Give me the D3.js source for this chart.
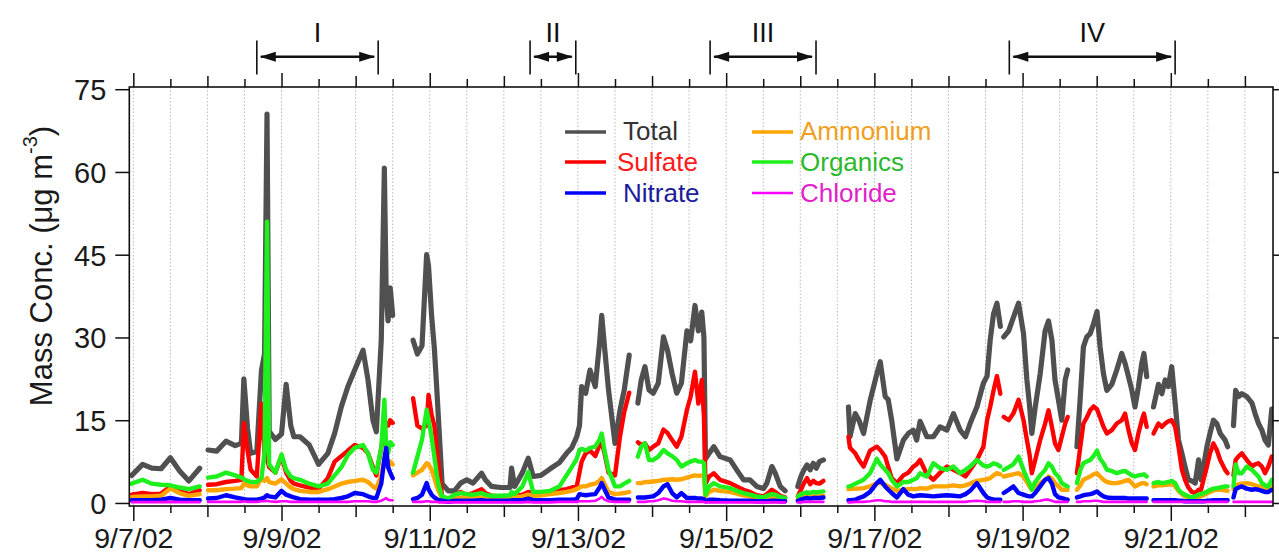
<!DOCTYPE html>
<html>
<head>
<meta charset="utf-8">
<script src="https://cdn.jsdelivr.net/npm/d3@7"></script>
<style>
  body { margin: 0; background: #fff; }
  svg { display: block; }
  text { font-family: "Liberation Sans", Arial, Helvetica, sans-serif; }
</style>
</head>
<body>
<svg id="chart" width="1279" height="554"></svg>
<script>
// Time origin: 9/7/02 00:00 (all sample times below are hours after it)
const startDate = Date.UTC(2002, 8, 7);

// Hours at which a new measurement block begins (gaps between blocks are not connected)
const segmentStarts = [-0.5, 24.2, 90.6, 163.4, 215.2, 231.6, 281.9, 305.6, 330.4, 356.3];

// Sample times (hours)
const hours = [
  -0.5, 3, 6, 9, 12, 15, 18, 21.5,
  24.2, 27, 30, 33, 35, 35.8, 37, 38, 40, 41.5, 42.5, 43.3, 44, 46, 48, 49.5, 51, 52, 54, 57, 60, 63,
  65.2, 67.4, 69.5, 71.7, 74.4, 76, 77.6, 78.7, 80.3, 81.3, 81.9, 82.5, 83.2, 84,
  90.6, 92, 93.5, 95, 95.6, 96.6, 97.5, 98.3, 99, 100, 102, 104, 106, 108, 110, 112.8, 114, 116, 119, 122,
  122.5, 123.5, 126, 127.9, 129.5, 132, 135, 138, 140.3, 142, 143.6, 144.5, 145.2, 146.5, 147.9, 149.6,
  151, 151.7, 152.6, 153.9, 156, 157.6, 159, 160.6,
  163.4, 164.5, 165.7, 167, 168.4, 170, 171.7, 173, 174.5, 176, 177.5, 179.3, 180.5, 181.9, 183, 184.1,
  184.8, 185.3, 186.5, 188, 190, 193.3, 195.4, 197.6, 199.7, 201.9, 204.1, 205.2, 206.8, 207.9, 209.5, 211.1,
  215.2, 216.2, 217.2, 218.2, 219.2, 220.2, 221.2, 222.2, 223.5,
  231.6, 232.1, 233.8, 235, 236.5, 238.6, 240.8, 241.9, 243.5, 244.5, 245.6, 247.3, 249.4, 251, 252.6, 253.7,
  254.8, 257, 259.1, 261.3, 263.5, 265.6, 267.8, 269.5, 271, 273.2, 275.3, 276.5, 277.5, 278.6, 279.7, 280.8,
  281.9, 283.5, 285, 286.7, 288.3, 289.4, 290.2, 291, 292.1, 293.7, 295.3, 296.4, 297.5, 298.5, 299.6, 300.7, 301.8, 302.6,
  305.6, 306.7, 307.7, 308.8, 309.9, 311, 312.1, 313.1, 314.2, 315.3, 316.9, 318.5, 320.1, 321.2, 322.3, 323.4,
  324.4, 325.5, 326.6, 327.3, 328.2,
  330.4, 332, 333.1, 334.2, 335.2, 336.3, 337.4, 338.5, 339.6, 340.6, 341.7, 342.8, 343.9, 345, 345.8, 346.6,
  347.7, 348.7, 349.8, 350.9, 352, 353.6, 354.4,
  356.3, 357, 358, 359, 360.6, 362.3, 363.3, 364.4, 365.5, 366.5, 367.6, 368.7
];

// Mass concentrations (µg m-3)
const total = [
  5.0, 7.0, 6.3, 6.2, 8.2, 5.8, 4.0, 6.3,
  9.6, 9.4, 11.2, 10.4, 10.8, 22.5, 13.5, 9.0, 9.3, 24.0, 27.0, 70.5, 13.0, 11.5, 12.5, 21.5, 14.0, 12.0, 12.0, 10.5, 7.0, 9.0,
  12.6, 17.5, 21.1, 24.1, 27.7, 22.3, 15.0, 12.9, 29.5, 60.7, 38.0, 33.0, 39.0, 34.0,
  29.5, 27.0, 28.5, 45.0, 43.0, 34.0, 28.0, 20.5, 13.5, 3.5, 2.2, 2.2, 3.6, 4.2, 3.6, 5.4, 4.2, 3.0, 2.8, 2.8,
  6.3, 3.0, 5.5, 8.1, 4.8, 5.0, 6.2, 7.3, 9.0, 10.0, 12.0, 14.0, 21.1, 19.9, 24.1, 21.1,
  29.0, 34.0, 28.3, 20.5, 10.8, 16.8, 20.5, 26.8,
  18.1, 22.3, 24.7, 20.5, 19.9, 21.7, 30.1, 27.7, 23.4, 19.9, 21.7, 31.2, 29.4, 35.8, 31.2, 34.6,
  30.0, 8.0, 9.0, 10.2, 8.4, 7.8, 6.0, 4.2, 4.2, 3.0, 2.6, 3.6, 6.6, 5.4, 3.0, 2.2,
  3.0, 4.8, 6.0, 6.9, 6.0, 7.2, 6.3, 7.5, 7.8,
  17.4, 12.0, 16.2, 15.0, 12.6, 18.5, 23.4, 25.6, 19.3, 18.7, 15.0, 8.0, 11.4, 12.6, 13.2, 11.4,
  14.8, 12.0, 12.0, 13.8, 13.2, 16.2, 13.2, 12.0, 14.4, 17.4, 21.7, 23.0, 29.5, 34.3, 36.2, 32.0,
  30.1, 31.2, 33.6, 36.2, 30.7, 22.3, 18.0, 12.6, 17.4, 23.4, 31.2, 33.0, 29.5, 22.3, 18.7, 15.0, 22.3, 24.1,
  10.2, 19.3, 28.3, 30.1, 30.7, 32.5, 34.7, 28.3, 23.4, 20.4, 21.5, 24.1, 27.1, 25.3, 22.9, 20.4,
  17.4, 21.0, 25.3, 27.1, 22.9,
  17.4, 21.5, 19.8, 22.3, 21.1, 24.7, 18.1, 11.4, 9.0, 6.6, 4.2, 4.0, 3.6, 7.8, 4.2, 6.6,
  10.2, 12.6, 15.0, 14.4, 12.6, 11.4, 10.2,
  14.0, 20.4, 19.3, 19.8, 19.3, 18.1, 16.2, 14.4, 13.2, 11.4, 10.5, 17.0
];

const sulfate = [
  1.5, 1.8, 1.6, 1.7, 3.0, 2.2, 1.6, 2.3,
  3.3, 3.4, 3.8, 4.0, 4.2, 14.5, 9.5, 6.0, 4.8, 18.0, 9.0, 8.0, 6.5, 5.5, 8.5, 5.5, 4.0, 3.5, 3.2, 2.8, 2.6, 4.5,
  7.5, 8.5, 9.5, 10.5, 10.0, 9.0, 6.5, 5.0, 10.0, 13.5, 14.5, 14.0, 15.0, 14.5,
  19.0, 14.0, 13.5, 14.0, 19.6, 16.0, 14.0, 9.6, 6.0, 1.2, 0.6, 1.3, 2.0, 1.5, 1.8, 2.5, 1.8, 1.3, 1.2, 1.2,
  1.5, 1.3, 1.5, 2.0, 1.8, 1.8, 2.0, 2.3, 2.5, 2.8, 3.0, 5.5, 7.5, 9.0, 9.5, 8.5,
  10.5, 11.0, 9.0, 5.5, 5.0, 12.0, 16.5, 20.0,
  11.0, 10.5, 10.8, 9.6, 10.2, 10.8, 13.3, 12.7, 11.4, 10.2, 12.0, 16.9, 19.3, 23.8, 18.0, 22.3,
  15.7, 3.5, 4.8, 5.4, 4.2, 3.6, 3.0, 2.4, 2.0, 1.4, 1.2, 1.6, 2.4, 2.0, 1.3, 1.0,
  1.2, 2.4, 3.6, 4.5, 3.4, 4.0, 3.6, 3.5, 4.0,
  12.0, 10.0, 9.0, 7.8, 6.6, 9.5, 10.2, 9.6, 8.4, 6.5, 4.5, 3.6, 5.0, 5.5, 6.6, 7.0,
  7.8, 5.2, 4.2, 5.5, 6.6, 6.0, 5.4, 4.8, 6.0, 7.8, 10.2, 15.0, 17.4, 20.4, 23.0, 19.8,
  15.6, 15.0, 16.2, 18.7, 15.0, 11.4, 9.0, 5.4, 7.8, 11.4, 14.4, 16.8, 13.8, 10.8, 9.6, 12.0, 14.4, 15.6,
  5.4, 10.2, 14.4, 15.5, 16.8, 17.5, 17.0, 15.5, 13.8, 12.6, 13.2, 14.4, 15.0, 16.2, 13.2, 10.8,
  9.6, 12.6, 15.0, 16.2, 13.8,
  12.6, 14.4, 13.8, 14.4, 14.8, 15.0, 13.8, 10.2, 6.0, 4.2, 2.8, 2.0, 1.8, 2.4, 2.4, 4.2,
  6.6, 9.0, 10.8, 9.6, 7.8, 6.0, 5.4,
  5.0, 7.8, 8.5, 9.0, 7.8, 6.6, 7.0, 7.2, 6.6, 5.4, 6.6, 8.4
];

const nitrate = [
  0.5, 0.5, 0.5, 0.6, 0.9, 0.6, 0.5, 0.5,
  0.8, 0.9, 1.4, 1.0, 0.8, 0.7, 0.6, 0.6, 0.6, 0.8, 1.0, 1.4, 1.2, 1.0, 2.2, 1.5, 1.2, 1.0, 0.7, 0.6, 0.6, 0.6,
  0.7, 0.9, 1.2, 1.8, 1.6, 1.2, 0.9, 0.9, 3.5, 8.0, 10.0, 6.5, 5.5, 4.5,
  0.7, 0.9, 1.5, 3.6, 2.5, 1.5, 1.0, 0.7, 0.5, 0.4, 0.2, 0.4, 0.4, 0.4, 0.4, 0.5, 0.4, 0.4, 0.4, 0.4,
  0.5, 0.5, 0.5, 0.8, 0.5, 0.5, 0.5, 0.6, 0.6, 0.6, 0.7, 1.6, 1.5, 1.4, 1.5, 1.6,
  2.8, 3.6, 2.5, 1.0, 0.6, 0.6, 0.6, 0.6,
  1.0, 1.0, 1.0, 1.1, 1.2, 1.8, 3.0, 3.4, 1.8, 1.0, 1.8, 0.9, 0.9, 0.9, 0.8, 0.8,
  0.7, 0.3, 0.6, 0.6, 0.5, 0.4, 0.4, 0.4, 0.4, 0.3, 0.3, 0.3, 0.4, 0.4, 0.3, 0.3,
  0.4, 0.6, 0.8, 0.9, 0.8, 0.9, 0.9, 0.9, 1.0,
  0.5, 0.5, 0.6, 0.9, 1.2, 2.0, 3.6, 4.2, 3.0, 2.4, 1.8, 1.0, 2.5, 1.5, 1.2, 1.3,
  1.4, 1.3, 1.2, 1.3, 1.4, 1.3, 1.2, 1.6, 2.2, 3.6, 1.8, 1.0, 0.8, 0.6, 0.6, 0.6,
  1.8, 2.4, 3.0, 1.8, 1.5, 1.3, 1.2, 1.2, 1.8, 3.0, 4.2, 4.5, 3.5, 1.6, 1.0, 0.9, 0.7, 0.6,
  1.0, 1.2, 1.4, 1.5, 1.6, 1.8, 2.1, 1.6, 1.2, 1.0, 0.9, 0.9, 0.9, 0.9, 0.8, 0.8,
  0.8, 0.8, 0.8, 0.8, 0.8,
  0.5, 0.5, 0.5, 0.5, 0.5, 0.5, 0.5, 0.4, 0.4, 0.3, 0.3, 0.3, 0.3, 0.3, 0.3, 0.3,
  0.4, 0.4, 0.5, 0.5, 0.5, 0.5, 0.5,
  1.0, 2.5, 2.8, 3.0, 2.6, 2.4, 2.5, 2.4, 2.2, 2.0, 2.0, 2.4
];

const ammonium = [
  1.1, 1.2, 1.2, 1.3, 2.6, 1.8, 1.3, 1.6,
  2.3, 2.3, 2.5, 2.6, 2.7, 3.5, 3.2, 3.0, 3.0, 4.5, 4.0, 4.5, 3.8, 3.5, 4.3, 3.5, 2.8, 2.5, 2.2, 2.0, 2.0, 2.5,
  3.0, 3.5, 3.8, 4.0, 4.2, 3.8, 3.0, 2.6, 5.0, 7.5, 7.0, 6.5, 7.5, 7.0,
  5.0, 5.5, 6.0, 7.2, 7.0, 6.0, 4.5, 3.0, 2.0, 0.8, 0.4, 0.8, 0.9, 0.9, 0.9, 1.0, 0.9, 0.8, 0.8, 0.9,
  1.0, 1.0, 1.2, 1.5, 1.3, 1.4, 1.6, 1.8, 2.0, 2.2, 2.5, 2.8, 3.0, 3.0, 3.3, 3.5,
  4.0, 4.5, 3.5, 2.0, 1.6, 1.7, 1.8, 2.0,
  3.6, 3.6, 3.8, 3.8, 3.9, 4.0, 4.2, 4.2, 4.3, 4.2, 4.3, 4.6, 4.8, 5.0, 4.9, 5.0,
  4.8, 1.2, 2.0, 2.4, 2.2, 2.0, 1.7, 1.4, 1.2, 0.8, 0.7, 0.8, 1.0, 0.9, 0.7, 0.6,
  0.6, 0.9, 1.1, 1.2, 1.1, 1.2, 1.2, 1.2, 1.3,
  2.5, 2.5, 2.6, 2.6, 2.7, 3.0, 3.6, 3.6, 3.3, 3.0, 2.6, 2.2, 2.4, 2.5, 2.5, 2.5,
  2.7, 2.6, 3.0, 3.0, 3.0, 3.2, 3.0, 3.2, 3.5, 4.0, 4.2, 4.3, 4.5, 5.0, 5.4, 5.2,
  4.8, 5.0, 5.2, 5.4, 4.8, 3.8, 3.0, 2.4, 2.8, 3.6, 4.2, 4.8, 4.4, 3.6, 3.0, 2.4, 2.4, 2.4,
  2.4, 3.2, 4.2, 4.5, 4.8, 5.2, 5.4, 4.8, 4.2, 3.8, 3.6, 3.6, 3.8, 4.0, 4.2, 3.6,
  3.0, 3.3, 3.6, 3.6, 3.4,
  3.0, 3.2, 3.2, 3.3, 3.3, 3.5, 3.0, 2.2, 1.6, 1.2, 1.0, 0.9, 0.9, 1.1, 1.2, 1.4,
  1.7, 2.0, 2.3, 2.4, 2.4, 2.3, 2.2,
  2.5, 3.2, 3.4, 3.5, 3.6, 3.4, 3.2, 3.0, 2.8, 2.6, 2.5, 3.0
];

const organics = [
  3.5, 4.2, 3.5, 3.3, 3.2, 2.8, 2.5, 3.0,
  4.6, 4.8, 5.5, 5.0, 4.6, 4.3, 4.0, 3.8, 3.8, 4.5, 9.0, 51.0, 7.0, 5.5, 8.8, 6.0, 4.8, 4.5, 4.2, 3.5, 3.0, 3.5,
  5.0, 6.5, 8.7, 10.0, 10.5, 9.0, 6.0, 5.5, 10.0, 18.7, 10.0, 9.0, 11.0, 10.5,
  5.5, 8.4, 11.5, 16.9, 15.0, 12.0, 8.4, 5.0, 3.0, 1.2, 0.8, 1.5, 1.8, 1.6, 1.5, 1.8, 1.5, 1.3, 1.3, 1.4,
  2.0, 1.6, 3.0, 5.6, 2.0, 2.0, 2.2, 3.0, 5.0, 6.5, 8.0, 9.6, 9.8, 9.5, 10.0, 10.2,
  11.5, 12.6, 9.5, 6.0, 3.0, 3.0, 3.5, 4.0,
  8.4, 10.2, 10.8, 7.8, 7.8, 8.4, 9.6, 9.0, 8.5, 7.8, 6.6, 7.2, 7.5, 7.8, 7.5, 7.5,
  7.2, 1.5, 3.0, 3.6, 3.0, 2.7, 2.2, 1.8, 1.5, 1.2, 1.0, 1.3, 1.6, 1.5, 1.1, 0.9,
  1.2, 1.6, 1.8, 1.9, 1.8, 2.0, 1.9, 2.0, 2.1,
  3.0, 3.0, 3.5, 3.8, 4.2, 5.4, 8.0, 7.0, 6.0, 5.4, 4.2, 3.0, 3.8, 3.8, 4.2, 4.5,
  5.4, 4.8, 7.2, 6.3, 6.0, 6.6, 5.4, 6.0, 6.6, 7.8, 6.8, 6.6, 6.8, 7.2, 7.0, 6.6,
  6.0, 6.5, 7.0, 8.4, 6.0, 4.5, 3.6, 2.4, 3.8, 5.0, 6.0, 7.2, 6.6, 5.4, 4.8, 3.6, 3.2, 3.0,
  3.6, 6.0, 7.2, 7.5, 7.8, 8.5, 9.5, 8.0, 7.2, 6.0, 5.8, 5.4, 5.7, 5.8, 5.4, 5.0,
  4.8, 5.0, 5.1, 5.2, 4.8,
  3.6, 3.8, 3.6, 3.7, 3.8, 4.0, 3.6, 2.4, 1.8, 1.5, 1.2, 1.0, 1.2, 1.5, 1.6, 1.8,
  2.0, 2.4, 2.6, 2.7, 2.8, 3.0, 3.0,
  3.0, 7.0, 5.4, 5.4, 6.6, 6.0, 5.4, 4.8, 3.6, 3.2, 3.0, 4.2
];

const chloride = [
  0.15, 0.15, 0.15, 0.15, 0.2, 0.15, 0.15, 0.15,
  0.2, 0.2, 0.2, 0.2, 0.2, 0.3, 0.2, 0.2, 0.2, 0.3, 0.3, 0.4, 0.3, 0.2, 0.3, 0.3, 0.2, 0.2, 0.2, 0.2, 0.2, 0.2,
  0.2, 0.2, 0.2, 0.3, 0.3, 0.3, 0.2, 0.2, 0.4, 0.7, 0.9, 0.6, 0.5, 0.5,
  0.2, 0.2, 0.2, 0.3, 0.3, 0.2, 0.2, 0.2, 0.1, 0.1, 0.1, 0.1, 0.1, 0.1, 0.1, 0.1, 0.1, 0.1, 0.1, 0.1,
  0.1, 0.1, 0.1, 0.2, 0.1, 0.1, 0.1, 0.2, 0.2, 0.2, 0.2, 0.3, 0.3, 0.3, 0.3, 0.4,
  0.8, 1.1, 0.6, 0.3, 0.2, 0.2, 0.2, 0.2,
  0.2, 0.2, 0.2, 0.3, 0.3, 0.5, 0.8, 0.7, 0.4, 0.3, 0.3, 0.2, 0.2, 0.2, 0.2, 0.2,
  0.2, 0.1, 0.1, 0.1, 0.1, 0.1, 0.1, 0.1, 0.1, 0.1, 0.1, 0.1, 0.1, 0.1, 0.1, 0.1,
  0.1, 0.1, 0.2, 0.2, 0.2, 0.2, 0.2, 0.2, 0.2,
  0.1, 0.1, 0.2, 0.2, 0.2, 0.3, 0.5, 0.5, 0.3, 0.3, 0.2, 0.2, 0.2, 0.2, 0.2, 0.2,
  0.2, 0.2, 0.2, 0.2, 0.2, 0.2, 0.2, 0.2, 0.3, 0.4, 0.3, 0.2, 0.2, 0.2, 0.2, 0.2,
  0.2, 0.2, 0.3, 0.3, 0.2, 0.2, 0.2, 0.2, 0.3, 0.4, 0.6, 0.6, 0.4, 0.2, 0.2, 0.2, 0.2, 0.2,
  0.2, 0.2, 0.3, 0.3, 0.3, 0.4, 0.4, 0.3, 0.2, 0.2, 0.2, 0.2, 0.2, 0.2, 0.2, 0.2,
  0.2, 0.2, 0.2, 0.2, 0.2,
  0.2, 0.2, 0.2, 0.2, 0.2, 0.2, 0.2, 0.2, 0.2, 0.2, 0.2, 0.2, 0.2, 0.2, 0.2, 0.2,
  0.2, 0.2, 0.2, 0.2, 0.2, 0.2, 0.2,
  0.2, 0.2, 0.2, 0.2, 0.2, 0.2, 0.2, 0.2, 0.2, 0.2, 0.2, 0.2
];

const seriesNames = ["Total", "Sulfate", "Nitrate", "Ammonium", "Organics", "Chloride"];
const seriesValues = [total, sulfate, nitrate, ammonium, organics, chloride];
const lineColors = ["#505050", "#ff0000", "#0000ff", "#ffa500", "#1ef01e", "#ff00ff"];
const labelColors = ["#333333", "#ff1a1a", "#1c1c9c", "#f0a020", "#2cb82c", "#e21fc8"];
const drawOrder = ["Total", "Sulfate", "Ammonium", "Organics", "Nitrate", "Chloride"];

const yTicks = [0, 15, 30, 45, 60, 75];

// Sampling periods marked above the plot (hours)
const periodLabels = ["I", "II", "III", "IV"];
const periodStart = [40.0, 128.5, 186.8, 283.7];
const periodEnd = [79.3, 143.3, 221.1, 337.4];

// ---------------------------------------------------------------------------
const svg = d3.select("#chart");
const frame = { left: 129.3, right: 1273, top: 87, bottom: 506 };

const x = d3.scaleLinear().domain([-1.3, 369.1]).range([frame.left, frame.right]);
const y = d3.scaleLinear().domain([-0.55, 75.4]).range([frame.bottom, frame.top]);

const halfDays = d3.range(0, 369, 12);
const dateFmt = d3.utcFormat("%-m/%-d/%y");
const tickKind = h => (h % 48 === 0 ? 2 : h % 24 === 0 ? 1 : 0);

// dotted vertical gridlines every 12 h
svg.append("g")
  .selectAll("line")
  .data(halfDays)
  .join("line")
  .attr("x1", d => x(d)).attr("x2", d => x(d))
  .attr("y1", frame.top).attr("y2", frame.bottom)
  .attr("stroke", "#b8b8b8")
  .attr("stroke-width", 1)
  .attr("stroke-dasharray", "1.5,2");

// data lines, one path per measurement block
const segIndex = h => d3.bisectRight(segmentStarts, h) - 1;
const line = d3.line().x(d => x(d.h)).y(d => y(d.v)).curve(d3.curveLinear);
svg.append("clipPath").attr("id", "plotclip")
  .append("rect")
  .attr("x", frame.left).attr("y", frame.top)
  .attr("width", frame.right - frame.left).attr("height", frame.bottom - frame.top);

const plot = svg.append("g").attr("clip-path", "url(#plotclip)");
drawOrder.forEach(name => {
  const i = seriesNames.indexOf(name);
  const vals = seriesValues[i];
  const pts = hours.map((h, k) => ({ h, v: vals[k], s: segIndex(h) }));
  const groups = d3.groups(pts, d => d.s);
  plot.append("g")
    .selectAll("path")
    .data(groups)
    .join("path")
    .attr("d", g => line(g[1]))
    .attr("fill", "none")
    .attr("stroke", lineColors[i])
    .attr("stroke-width", name === "Chloride" ? 2.6 : name === "Total" ? 5.2 : 4.4)
    .attr("stroke-linejoin", "round")
    .attr("stroke-linecap", "round");
});

// plot frame
svg.append("rect")
  .attr("x", frame.left).attr("y", frame.top)
  .attr("width", frame.right - frame.left).attr("height", frame.bottom - frame.top)
  .attr("fill", "none").attr("stroke", "#111").attr("stroke-width", 1.6);

// bottom axis
const bottomAxis = svg.append("g")
  .attr("transform", `translate(0,${frame.bottom})`)
  .call(d3.axisBottom(x).tickValues(halfDays).tickSizeOuter(0)
    .tickFormat(h => (h % 48 === 0 ? dateFmt(new Date(startDate + h * 3600e3)) : "")));
bottomAxis.select(".domain").remove();
bottomAxis.selectAll(".tick line")
  .attr("y2", d => [7, 11, 15][tickKind(d)])
  .attr("stroke", "#111").attr("stroke-width", 1.5);
bottomAxis.selectAll(".tick text")
  .attr("y", 42).attr("dy", 0)
  .attr("font-size", 28.5).attr("fill", "#1a1a1a");

// top axis (ticks only)
const topAxis = svg.append("g")
  .attr("transform", `translate(0,${frame.top})`)
  .call(d3.axisTop(x).tickValues(halfDays).tickSizeOuter(0).tickFormat(""));
topAxis.select(".domain").remove();
topAxis.selectAll(".tick line")
  .attr("y2", d => -[8, 11, 14][tickKind(d)])
  .attr("stroke", "#111").attr("stroke-width", 1.5);

// left axis
const leftAxis = svg.append("g")
  .attr("transform", `translate(${frame.left},0)`)
  .call(d3.axisLeft(y).tickValues(yTicks).tickSize(14).tickSizeOuter(0).tickPadding(9));
leftAxis.select(".domain").remove();
leftAxis.selectAll(".tick line").attr("stroke", "#111").attr("stroke-width", 1.5);
leftAxis.selectAll(".tick text")
  .attr("font-size", 29).attr("fill", "#1a1a1a").attr("dy", "0.36em");

// right axis (ticks only)
const rightAxis = svg.append("g")
  .attr("transform", `translate(${frame.right},0)`)
  .call(d3.axisRight(y).tickValues(yTicks).tickSize(14).tickSizeOuter(0).tickFormat(""));
rightAxis.select(".domain").remove();
rightAxis.selectAll(".tick line").attr("stroke", "#111").attr("stroke-width", 1.5);

// y-axis title
const yTitle = svg.append("text")
  .attr("transform", "translate(52,266) rotate(-90)")
  .attr("text-anchor", "middle")
  .attr("font-size", 31)
  .attr("fill", "#1a1a1a");
yTitle.append("tspan").text("Mass Conc. (\u03bcg m");
yTitle.append("tspan").attr("font-size", 20).attr("dy", "-0.75em").text("-3");
yTitle.append("tspan").attr("dy", "0.48em").text(")");

// legend
const legendRows = [
  { name: "Total", lx: 565, tx: 623, yl: 132, yt: 139.5 },
  { name: "Sulfate", lx: 565, tx: 617, yl: 162, yt: 170.5 },
  { name: "Nitrate", lx: 565, tx: 623, yl: 193, yt: 201.5 },
  { name: "Ammonium", lx: 752, tx: 800, yl: 132, yt: 139.5 },
  { name: "Organics", lx: 752, tx: 800, yl: 162, yt: 170.5 },
  { name: "Chloride", lx: 752, tx: 800, yl: 193, yt: 201.5 }
];
const legend = svg.append("g");
legendRows.forEach(r => {
  const i = seriesNames.indexOf(r.name);
  legend.append("line")
    .attr("x1", r.lx).attr("x2", r.lx + 41)
    .attr("y1", r.yl).attr("y2", r.yl)
    .attr("stroke", lineColors[i])
    .attr("stroke-width", r.name === "Chloride" ? 2.5 : 3.5);
  legend.append("text")
    .attr("x", r.tx).attr("y", r.yt)
    .attr("font-size", 26)
    .attr("fill", labelColors[i])
    .text(r.name);
});

// period markers with double-headed arrows
const ann = svg.append("g");
periodLabels.forEach((lab, k) => {
  const x0 = x(periodStart[k]), x1 = x(periodEnd[k]);
  const ya = 56.7;
  [x0, x1].forEach(xx => ann.append("line")
    .attr("x1", xx).attr("x2", xx).attr("y1", 40.5).attr("y2", 74.5)
    .attr("stroke", "#111").attr("stroke-width", 1.6));
  ann.append("line")
    .attr("x1", x0 + 4).attr("x2", x1 - 4).attr("y1", ya).attr("y2", ya)
    .attr("stroke", "#111").attr("stroke-width", 2.6);
  const ah = Math.min(16, (x1 - x0) / 2 - 4);
  ann.append("path")
    .attr("d", `M${x0 + 3},${ya} L${x0 + 3 + ah},${ya - 5} L${x0 + 3 + ah},${ya + 5} Z`)
    .attr("fill", "#111");
  ann.append("path")
    .attr("d", `M${x1 - 3},${ya} L${x1 - 3 - ah},${ya - 5} L${x1 - 3 - ah},${ya + 5} Z`)
    .attr("fill", "#111");
  ann.append("text")
    .attr("x", (x0 + x1) / 2).attr("y", 42)
    .attr("text-anchor", "middle")
    .attr("font-size", 27)
    .attr("fill", "#111")
    .text(lab);
});
</script>
</body>
</html>
